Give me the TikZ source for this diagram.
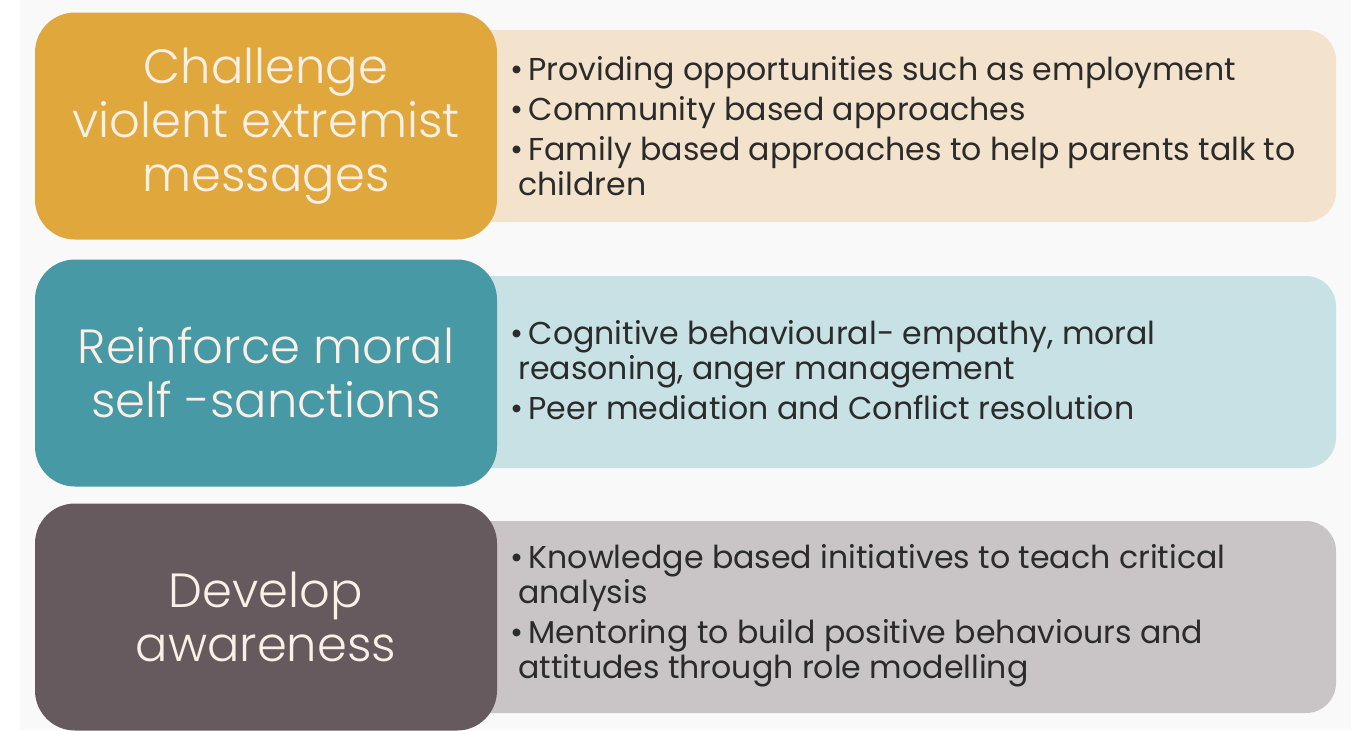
\documentclass[tikz,border=0pt]{standalone}
\usepackage{fontspec}
\setmainfont{Poppins}
\newfontfamily\headfont{Poppins}[UprightFont=* Light]
\usetikzlibrary{positioning}

\definecolor{pagebg}{HTML}{F9F9F9}
\definecolor{sand}{HTML}{E0A83C}
\definecolor{sandlight}{HTML}{F3E3CC}
\definecolor{tealbox}{HTML}{4799A6}
\definecolor{teallight}{HTML}{C7E1E4}
\definecolor{plum}{HTML}{665A5F}
\definecolor{greylight}{HTML}{C9C4C6}
\definecolor{headtext}{HTML}{FBF0E6}
\definecolor{itemtext}{HTML}{2B2B2B}

\tikzset{
  headbox/.style={rounded corners=20pt, minimum width=231pt, minimum height=113.5pt,
    text=headtext, align=center, font=\headfont\fontsize{24}{27}\selectfont},
  listbox/.style={rounded corners=15pt, minimum width=438pt, minimum height=96pt},
  listtext/.style={anchor=west, inner sep=0pt, align=left, text=itemtext,
    font=\fontsize{15.8}{17.5}\selectfont}
}

\begin{document}
\begin{tikzpicture}[x=0.5pt,y=-0.5pt]
\fill[white] (0,0) rectangle (1351,730);
\fill[pagebg] (20,0) rectangle (1351,730);
\useasboundingbox (0,0) rectangle (1351,730);

% list panels, tucked behind the headings
\node[listbox, fill=sandlight] (challengelist) at (898,126) {};
\node[listbox, fill=teallight] (morallist)     at (898,372) {};
\node[listbox, fill=greylight] (awarelist)     at (898,617) {};

% headings
\node[headbox, fill=sand]    (challenge) at (266,126) {Challenge\\violent extremist\\messages};
\node[headbox, fill=tealbox] (moral)     at (266,373) {Reinforce moral\\self -sanctions};
\node[headbox, fill=plum]    (aware)     at (266,617) {Develop\\awareness};

% bullet points
\node[listtext] (challengeitems) at (510,126) {%
  \textbullet\,Providing opportunities such as employment\\[2.5pt]
  \textbullet\,Community based approaches\\[2.5pt]
  \textbullet\,Family based approaches to help parents talk to\\
  \hspace*{4pt}children};
\node[listtext] (moralitems) at (510,370) {%
  \textbullet\,Cognitive behavioural- empathy, moral\\
  \hspace*{4pt}reasoning, anger management\\[2.5pt]
  \textbullet\,Peer mediation and Conflict resolution};
\node[listtext] (awareitems) at (510,616) {%
  \textbullet\,Knowledge based initiatives to teach critical\\
  \hspace*{4pt}analysis\\[2.5pt]
  \textbullet\,Mentoring to build positive behaviours and\\
  \hspace*{4pt}attitudes through role modelling};
\end{tikzpicture}
\end{document}
